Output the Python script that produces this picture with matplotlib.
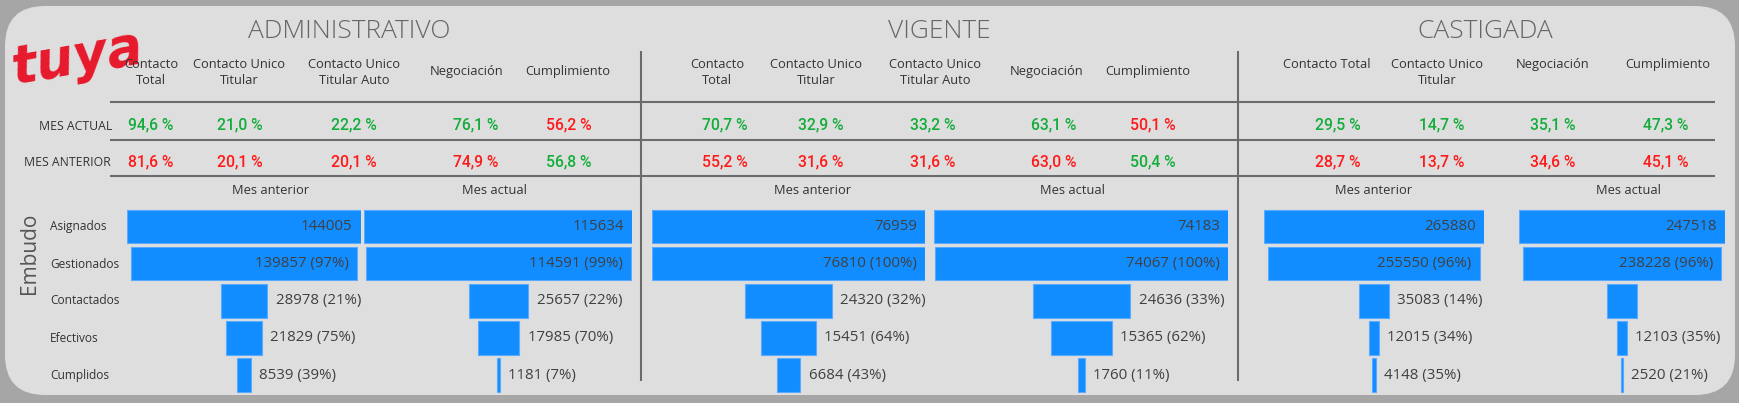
import matplotlib
matplotlib.use("Agg")
import matplotlib.pyplot as plt
from matplotlib.patches import FancyBboxPatch

# datos del tablero
stages = ['Asignados', 'Gestionados', 'Contactados', 'Efectivos', 'Cumplidos']
adm_ant = [144005, 139857, 28978, 21829, 8539]
adm_act = [115634, 114591, 25657, 17985, 1181]
vig_ant = [76959, 76810, 24320, 15451, 6684]
vig_act = [74183, 74067, 24636, 15365, 1760]
cas_ant = [265880, 255550, 35083, 12015, 4148]
cas_act = [247518, 238228, 34900, 12103, 2520]

adm_cols = ['Contacto\nTotal', 'Contacto Unico\nTitular', 'Contacto Unico\nTitular Auto', 'Negociación', 'Cumplimiento']
adm_actual = [94.6, 21.0, 22.2, 76.1, 56.2]
adm_anterior = [81.6, 20.1, 20.1, 74.9, 56.8]
vig_cols = ['Contacto\nTotal', 'Contacto Unico\nTitular', 'Contacto Unico\nTitular Auto', 'Negociación', 'Cumplimiento']
vig_actual = [70.7, 32.9, 33.2, 63.1, 50.1]
vig_anterior = [55.2, 31.6, 31.6, 63.0, 50.4]
cas_cols = ['Contacto Total', 'Contacto Unico\nTitular', 'Negociación', 'Cumplimiento']
cas_actual = [29.5, 14.7, 35.1, 47.3]
cas_anterior = [28.7, 13.7, 34.6, 45.1]

W, H = 1740, 403
TXT = 'Open Sans'
NUM = 'Roboto'
GREEN = '#13ad3b'
RED = '#ff1a1a'
BLUE = '#118dff'
LINE = '#6b6b6b'

fig = plt.figure(figsize=(W / 100, H / 100), dpi=100)
fig.patch.set_facecolor('#a6a6a6')
ax = fig.add_axes([0, 0, 1, 1])
ax.set_xlim(0, W)
ax.set_ylim(H, 0)
ax.axis('off')

panel = FancyBboxPatch((5, 6), 1730, 389, boxstyle='round,pad=0,rounding_size=40',
                       facecolor='#dedede', edgecolor='none')
ax.add_patch(panel)

# logo
ax.text(8, 58, 'tuya', color='#e8192c', fontsize=38, style='italic', weight='bold',
        family='DejaVu Sans', ha='left', va='center', rotation=10)

# titulos
for t, x in [('ADMINISTRATIVO', 349), ('VIGENTE', 939), ('CASTIGADA', 1485)]:
    ax.text(x, 31, t, fontsize=19, color='#666666', family=TXT, weight='light',
            ha='center', va='center')

# lineas
for y in [102, 140, 176]:
    ax.plot([110, 1715], [y, y], color=LINE, lw=1.5, solid_capstyle='butt')
for x in [641, 1238]:
    ax.plot([x, x], [51, 381], color=LINE, lw=1.5, solid_capstyle='butt')

ax.text(112, 126, 'MES ACTUAL', fontsize=8.8, color='#333333', family=TXT, ha='right', va='center')
ax.text(111, 163, 'MES ANTERIOR', fontsize=8.8, color='#333333', family=TXT, ha='right', va='center')


def fmt(v):
    return f'{v:.1f} %'.replace('.', ',')


def kpi_block(cols, hx, vx, actual, anterior, top_align=False):
    for c, x in zip(cols, hx):
        if top_align or '\n' in c:
            ax.text(x, 58, c, fontsize=9.3, color='#333333', family=TXT, ha='center',
                    va='top', linespacing=1.35)
        else:
            ax.text(x, 72, c, fontsize=9.3, color='#333333', family=TXT, ha='center', va='center')
    for a, b, x in zip(actual, anterior, vx):
        ax.text(x, 125, fmt(a), fontsize=11.3, color=GREEN if a >= b else RED, family=NUM,
                weight='medium', ha='center', va='center')
        ax.text(x, 162, fmt(b), fontsize=11.3, color=GREEN if b > a else RED, family=NUM,
                weight='medium', ha='center', va='center')


kpi_block(adm_cols, [151, 239, 354, 467, 568], [151, 240, 354, 476, 569], adm_actual, adm_anterior)
kpi_block(vig_cols, [717, 816, 935, 1047, 1148], [725, 821, 933, 1054, 1153], vig_actual, vig_anterior)
kpi_block(cas_cols, [1327, 1437, 1553, 1668], [1338, 1442, 1553, 1666], cas_actual, cas_anterior, True)

# subtitulos embudo
for t, x in [('Mes anterior', 271), ('Mes actual', 494), ('Mes anterior', 813),
             ('Mes actual', 1072), ('Mes anterior', 1374), ('Mes actual', 1628)]:
    ax.text(x, 190, t, fontsize=9.3, color='#333333', family=TXT, ha='center', va='center')

ax.text(30, 253, 'Embudo', fontsize=15, color='#555555', family=TXT, rotation=90,
        ha='center', va='center')

row_y = [226.5, 264, 301, 338, 375]
for s, y in zip(stages, row_y):
    ax.text(50, y, s, fontsize=8.6, color='#333333', family=TXT, ha='left', va='center')

top, bot = 208, 393.6


def funnel(vals, x0, width, hide=()):
    fa = fig.add_axes([x0 / W, 1 - bot / H, width / W, (bot - top) / H])
    fa.patch.set_alpha(0)
    fa.axis('off')
    m = max(vals)
    fa.set_xlim(-m / 2, m / 2)
    fa.set_ylim(4.5, -0.5)
    fa.barh(range(len(vals)), vals, left=[-v / 2 for v in vals], height=0.9,
            color=BLUE, edgecolor='#5aaaff', linewidth=0.8)
    for i, v in enumerate(vals):
        if i in hide:
            continue
        lab = str(v) if i == 0 else f'{v} ({int(v / vals[i - 1] * 100 + 0.5)}%)'
        if v / m > 0.5:
            fa.annotate(lab, (v / 2, i), xytext=(-6, 0), textcoords='offset points',
                        ha='right', va='center', fontsize=10.8, color='#404040', family=TXT,
                        annotation_clip=False)
        else:
            fa.annotate(lab, (v / 2, i), xytext=(6, 0), textcoords='offset points',
                        ha='left', va='center', fontsize=10.8, color='#404040', family=TXT,
                        annotation_clip=False)


funnel(adm_ant, 127.5, 233)
funnel(adm_act, 364.5, 268)
funnel(vig_ant, 651.5, 274)
funnel(vig_act, 934.5, 294)
funnel(cas_ant, 1264, 220)
funnel(cas_act, 1519, 206, hide=(2,))

fig.savefig('out.png', dpi=100, facecolor=fig.get_facecolor())
